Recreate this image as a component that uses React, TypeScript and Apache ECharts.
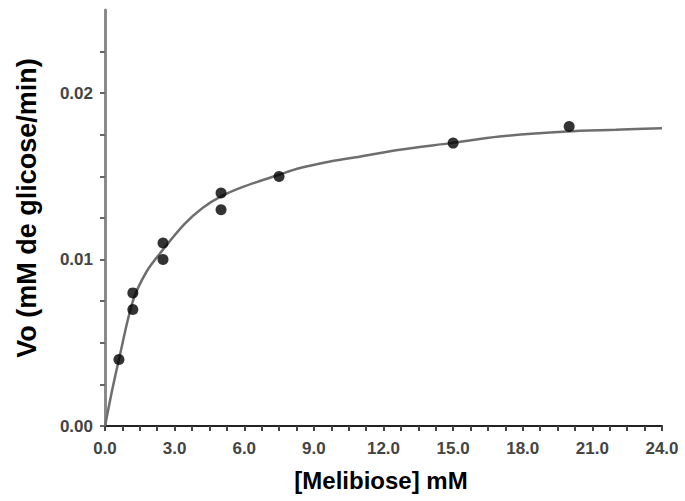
import React, { useEffect, useRef } from "react";
import * as echarts from "echarts";

// Measured points: [Melibiose] mM vs Vo
const substrateMM = [0.6, 1.2, 1.2, 2.5, 2.5, 5.0, 5.0, 7.5, 15.0, 20.0];
const velocity = [0.004, 0.007, 0.008, 0.010, 0.011, 0.013, 0.014, 0.015, 0.017, 0.018];

// Fitted curve
const curveX = [0, 0.3, 0.6, 1.2, 1.8, 2.5, 3.4, 4.2, 5.0, 6.0, 7.5, 8.4, 9.7, 10.6, 12.7, 14.9, 17.0, 19.9, 22.0, 24.0];
const curveY = [0, 0.0021, 0.004, 0.0075, 0.0093, 0.0106, 0.0121, 0.0131, 0.0138, 0.0144, 0.0151, 0.0155, 0.0159, 0.0161, 0.0166, 0.0170, 0.0174, 0.0177, 0.0178, 0.0179];

const xTitle = "[Melibiose] mM";
const yTitle = "Vo (mM de glicose/min)";

export default function App() {
  const ref = useRef<HTMLDivElement>(null);
  useEffect(() => {
    if (!ref.current) return;
    const chart = echarts.init(ref.current, null, { renderer: "svg" });
    const font = "'Liberation Sans', Arial, sans-serif";
    chart.setOption({
      animation: false,
      backgroundColor: "#ffffff",
      grid: { left: 105, right: 23, top: 10, bottom: 75, containLabel: false },
      xAxis: {
        type: "value",
        min: 0,
        max: 24,
        interval: 3,
        axisLine: { show: true, onZero: false, lineStyle: { color: "#222", width: 2 } },
        axisTick: { show: true, length: 5, lineStyle: { color: "#444", width: 2 } },
        minorTick: { show: true, splitNumber: 4, length: 5, lineStyle: { color: "#444", width: 2 } },
        splitLine: { show: false },
        minorSplitLine: { show: false },
        axisLabel: {
          margin: 14,
          fontFamily: font,
          fontWeight: "bold",
          fontSize: 17,
          color: "#444",
          formatter: (v: number) => v.toFixed(1),
        },
      },
      yAxis: {
        type: "value",
        min: 0,
        max: 0.025,
        interval: 0.0025,
        axisLine: { show: true, onZero: false, lineStyle: { color: "#8a8a8a", width: 3 } },
        axisTick: { show: true, length: 5, lineStyle: { color: "#666", width: 2 } },
        splitLine: { show: false },
        axisLabel: {
          margin: 12,
          fontFamily: font,
          fontWeight: "bold",
          fontSize: 17,
          color: "#444",
          showMaxLabel: false,
          formatter: (v: number) => {
            const k = v / 0.01;
            return Math.abs(k - Math.round(k)) < 1e-6 ? v.toFixed(2) : "";
          },
        },
      },
      series: [
        {
          type: "line",
          data: curveX.map((x, i) => [x, curveY[i]]),
          smooth: 0.3,
          showSymbol: false,
          symbol: "none",
          lineStyle: { color: "#6e6e6e", width: 2.5 },
          z: 2,
        },
        {
          type: "scatter",
          data: substrateMM.map((x, i) => [x, velocity[i]]),
          symbol: "circle",
          symbolSize: 11,
          itemStyle: { color: "#000" },
          z: 3,
        },
      ],
      graphic: [
        {
          type: "text",
          x: 381,
          y: 480,
          style: {
            text: xTitle,
            fontFamily: font,
            fontWeight: "bold",
            fontSize: 24,
            fill: "#000",
            align: "center",
            verticalAlign: "middle",
          },
        },
        {
          type: "text",
          x: 27,
          y: 208,
          rotation: Math.PI / 2,
          style: {
            text: yTitle,
            fontFamily: font,
            fontWeight: "bold",
            fontSize: 27,
            fill: "#000",
            align: "center",
            verticalAlign: "middle",
          },
        },
      ],
    });
    return () => chart.dispose();
  }, []);
  return <div ref={ref} style={{ width: 685, height: 501, position: "absolute", left: 0, top: 0 }} />;
}
